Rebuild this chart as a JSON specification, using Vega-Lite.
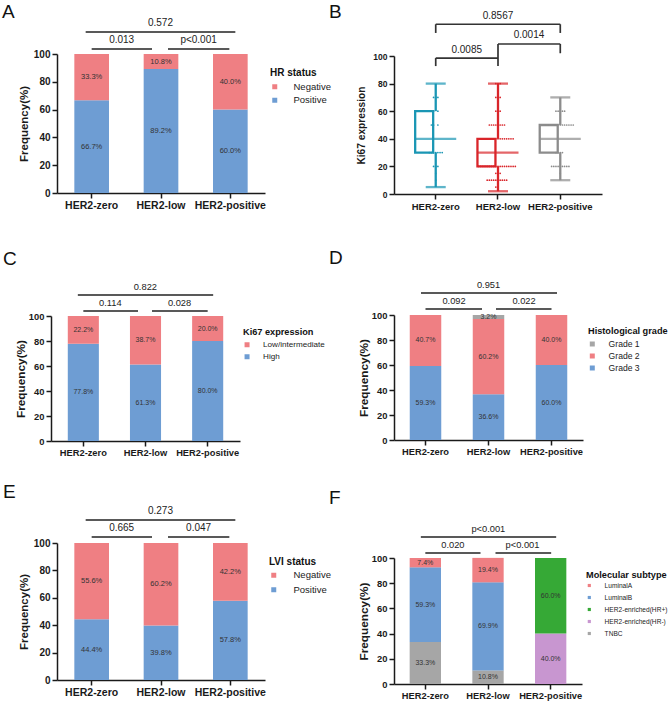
{
"$schema":"https://vega.github.io/schema/vega-lite/v6.json",
"background":"white",
"padding":{"left":2,"top":3,"right":0,"bottom":0},
"columns":2,
"spacing":{"row":100,"column":129},
"bounds":"flush",
"align":"each",
"resolve":{"scale":{"x":"independent","y":"independent","color":"independent","xOffset":"independent"},"axis":{"x":"independent","y":"independent"},"legend":{"color":"independent"}},
"concat":[
{
 "width":208,"height":139,
 "title":{"text":"A","anchor":"start","frame":"group","dx":-55,"offset":-19,"baseline":"alphabetic","fontSize":19,"fontWeight":"normal"},
 "layer":[
  {"data":{"values":[
    {"g":"HER2-zero","s":"Positive","o":1,"v":66.7,"t":"66.7%"},
    {"g":"HER2-zero","s":"Negative","o":2,"v":33.3,"t":"33.3%"},
    {"g":"HER2-low","s":"Positive","o":1,"v":89.2,"t":"89.2%"},
    {"g":"HER2-low","s":"Negative","o":2,"v":10.8,"t":"10.8%"},
    {"g":"HER2-positive","s":"Positive","o":1,"v":60.0,"t":"60.0%"},
    {"g":"HER2-positive","s":"Negative","o":2,"v":40.0,"t":"40.0%"}]},
   "layer":[
    {"mark":{"type":"bar"},
     "encoding":{
      "x":{"field":"g","type":"nominal","scale":{"domain":["HER2-zero","HER2-low","HER2-positive"],"paddingInner":0.5,"paddingOuter":0.25},"axis":{"title":null,"labelFontSize":10.5}},
      "y":{"field":"v","type":"quantitative","stack":"zero","scale":{"domain":[0,100],"nice":false},"axis":{"title":"Frequency(%)","values":[0,20,40,60,80,100],"tickCount":6,"labelFontSize":10,"titleFontSize":11.5}},
      "color":{"field":"s","type":"nominal","scale":{"domain":["Negative","Positive"],"range":["#ef7f83","#6e9dd3"]},"legend":{"title":"HR status","orient":"none","legendX":213,"legendY":14,"titleFontSize":10,"labelFontSize":9.5,"symbolSize":25,"rowPadding":2.5,"titlePadding":4,"labelOffset":14}},
      "order":{"field":"o","type":"quantitative"}}},
    {"mark":{"type":"text","fontSize":7.5,"color":"#333"},
     "encoding":{
      "x":{"field":"g","type":"nominal","scale":{"domain":["HER2-zero","HER2-low","HER2-positive"],"paddingInner":0.5,"paddingOuter":0.25}},
      "y":{"field":"v","type":"quantitative","stack":"zero","bandPosition":0.5,"scale":{"domain":[0,100],"nice":false}},
      "detail":{"field":"s"},
      "order":{"field":"o","type":"quantitative"},
      "text":{"field":"t"}}}
   ]},
  {"data":{"values":[{"a":"HER2-zero","b":"HER2-low","y":103.6,"p":"0.013"}]},
   "encoding":{"x":{"field":"a","type":"nominal","scale":{"domain":["HER2-zero","HER2-low","HER2-positive"],"paddingInner":0.5,"paddingOuter":0.25}},"y":{"field":"y","type":"quantitative","scale":{"domain":[0,100],"nice":false}}},
   "layer":[
    {"mark":{"type":"rule","x2Offset":-9,"strokeWidth":1.5,"color":"#222"},"encoding":{"x2":{"field":"b"}}},
    {"mark":{"type":"text","dx":30,"dy":-9,"fontSize":10,"color":"#222"},"encoding":{"text":{"field":"p"}}}]},
  {"data":{"values":[{"a":"HER2-low","b":"HER2-positive","y":103.6,"p":"p<0.001"}]},
   "encoding":{"x":{"field":"a","type":"nominal","scale":{"domain":["HER2-zero","HER2-low","HER2-positive"],"paddingInner":0.5,"paddingOuter":0.25}},"y":{"field":"y","type":"quantitative","scale":{"domain":[0,100],"nice":false}}},
   "layer":[
    {"mark":{"type":"rule","xOffset":7,"x2Offset":-1,"strokeWidth":1.5,"color":"#222"},"encoding":{"x2":{"field":"b"}}},
    {"mark":{"type":"text","dx":37.6,"dy":-9,"fontSize":10,"color":"#222"},"encoding":{"text":{"field":"p"}}}]},
  {"data":{"values":[{"a":"HER2-zero","b":"HER2-positive","y":115.8,"p":"0.572"}]},
   "encoding":{"x":{"field":"a","type":"nominal","scale":{"domain":["HER2-zero","HER2-low","HER2-positive"],"paddingInner":0.5,"paddingOuter":0.25}},"y":{"field":"y","type":"quantitative","scale":{"domain":[0,100],"nice":false}}},
   "layer":[
    {"mark":{"type":"rule","xOffset":-6,"x2Offset":5,"strokeWidth":1.5,"color":"#222"},"encoding":{"x2":{"field":"b"}}},
    {"mark":{"type":"text","dx":68.8,"dy":-9,"fontSize":10,"color":"#222"},"encoding":{"text":{"field":"p"}}}]}
 ]
},
{
 "width":208,"height":140,
 "title":{"text":"B","anchor":"start","frame":"group","dx":-65,"offset":-26,"baseline":"alphabetic","fontSize":19,"fontWeight":"normal"},
 "layer":[
  {"data":{"values":[
    {"g":"HER2-zero","lo":5,"q1":30,"md":40,"q3":60,"hi":80},
    {"g":"HER2-low","lo":2,"q1":20,"md":30,"q3":40,"hi":80},
    {"g":"HER2-positive","lo":10,"q1":30,"md":40,"q3":50,"hi":70}]},
   "encoding":{
    "x":{"field":"g","type":"nominal","scale":{"domain":["HER2-zero","HER2-low","HER2-positive"],"paddingInner":0.34,"paddingOuter":0.34},"axis":{"title":null,"labelFontSize":9.5}},
    "color":{"field":"g","type":"nominal","scale":{"domain":["HER2-zero","HER2-low","HER2-positive"],"range":["#1a96b4","#d9252a","#8c8c8c"]},"legend":null}},
   "layer":[
    {"mark":{"type":"rule","strokeWidth":2.3},"encoding":{"y":{"field":"lo","type":"quantitative","scale":{"domain":[0,100],"nice":false,"range":[140,2]},"axis":{"title":"Ki67 expression","values":[0,20,40,60,80,100],"tickCount":6,"labelFontSize":8.5,"titleFontSize":10.2,"titlePadding":6}},"y2":{"field":"q1"}}},
    {"mark":{"type":"rule","strokeWidth":2.3},"encoding":{"y":{"field":"q3","type":"quantitative","scale":{"domain":[0,100],"nice":false,"range":[140,2]}},"y2":{"field":"hi"}}},
    {"mark":{"type":"bar","filled":false,"strokeWidth":2.3,"width":{"band":1}},"encoding":{"y":{"field":"q1","type":"quantitative","scale":{"domain":[0,100],"nice":false,"range":[140,2]}},"y2":{"field":"q3"}}},
    {"mark":{"type":"tick","thickness":2.3,"size":41},"encoding":{"y":{"field":"md","type":"quantitative","scale":{"domain":[0,100],"nice":false,"range":[140,2]}}}},
    {"mark":{"type":"tick","thickness":2.3,"size":20},"encoding":{"y":{"field":"lo","type":"quantitative","scale":{"domain":[0,100],"nice":false,"range":[140,2]}}}},
    {"mark":{"type":"tick","thickness":2.3,"size":20},"encoding":{"y":{"field":"hi","type":"quantitative","scale":{"domain":[0,100],"nice":false,"range":[140,2]}}}}
   ]},
  {"data":{"values":[
    {"g":"HER2-zero","v":70,"k":-1},{"g":"HER2-zero","v":70,"k":0},{"g":"HER2-zero","v":70,"k":1},
    {"g":"HER2-zero","v":60,"k":-1},{"g":"HER2-zero","v":60,"k":1},
    {"g":"HER2-zero","v":50,"k":-2},{"g":"HER2-zero","v":50,"k":-1},{"g":"HER2-zero","v":50,"k":1},
    {"g":"HER2-zero","v":30,"k":-3},{"g":"HER2-zero","v":30,"k":-2},{"g":"HER2-zero","v":30,"k":-1},{"g":"HER2-zero","v":30,"k":0},{"g":"HER2-zero","v":30,"k":1},{"g":"HER2-zero","v":30,"k":2},{"g":"HER2-zero","v":30,"k":3},
    {"g":"HER2-zero","v":20,"k":-1},{"g":"HER2-zero","v":20,"k":0},{"g":"HER2-zero","v":20,"k":1},
    {"g":"HER2-zero","v":15,"k":0},{"g":"HER2-zero","v":10,"k":0},
    {"g":"HER2-low","v":80,"k":-1},{"g":"HER2-low","v":80,"k":0},{"g":"HER2-low","v":80,"k":1},
    {"g":"HER2-low","v":70,"k":-1},{"g":"HER2-low","v":70,"k":0},{"g":"HER2-low","v":70,"k":1},
    {"g":"HER2-low","v":60,"k":-1},{"g":"HER2-low","v":60,"k":0},{"g":"HER2-low","v":60,"k":1},
    {"g":"HER2-low","v":50,"k":-4},{"g":"HER2-low","v":50,"k":-3},{"g":"HER2-low","v":50,"k":-2},{"g":"HER2-low","v":50,"k":-1},{"g":"HER2-low","v":50,"k":0},{"g":"HER2-low","v":50,"k":1},{"g":"HER2-low","v":50,"k":2},{"g":"HER2-low","v":50,"k":3},
    {"g":"HER2-low","v":40,"k":-8},{"g":"HER2-low","v":40,"k":-7},{"g":"HER2-low","v":40,"k":-6},{"g":"HER2-low","v":40,"k":-5},{"g":"HER2-low","v":40,"k":-4},{"g":"HER2-low","v":40,"k":-3},{"g":"HER2-low","v":40,"k":-2},{"g":"HER2-low","v":40,"k":-1},{"g":"HER2-low","v":40,"k":0},{"g":"HER2-low","v":40,"k":1},{"g":"HER2-low","v":40,"k":2},{"g":"HER2-low","v":40,"k":3},{"g":"HER2-low","v":40,"k":4},{"g":"HER2-low","v":40,"k":5},{"g":"HER2-low","v":40,"k":6},{"g":"HER2-low","v":40,"k":7},
    {"g":"HER2-low","v":20,"k":-9},{"g":"HER2-low","v":20,"k":-8},{"g":"HER2-low","v":20,"k":-7},{"g":"HER2-low","v":20,"k":-6},{"g":"HER2-low","v":20,"k":-5},{"g":"HER2-low","v":20,"k":-4},{"g":"HER2-low","v":20,"k":-3},{"g":"HER2-low","v":20,"k":-2},{"g":"HER2-low","v":20,"k":-1},{"g":"HER2-low","v":20,"k":0},{"g":"HER2-low","v":20,"k":1},{"g":"HER2-low","v":20,"k":2},{"g":"HER2-low","v":20,"k":3},{"g":"HER2-low","v":20,"k":4},{"g":"HER2-low","v":20,"k":5},{"g":"HER2-low","v":20,"k":6},{"g":"HER2-low","v":20,"k":7},{"g":"HER2-low","v":20,"k":8},
    {"g":"HER2-low","v":15,"k":-1},{"g":"HER2-low","v":15,"k":0},{"g":"HER2-low","v":15,"k":1},
    {"g":"HER2-low","v":10,"k":-5},{"g":"HER2-low","v":10,"k":-4},{"g":"HER2-low","v":10,"k":-3},{"g":"HER2-low","v":10,"k":-2},{"g":"HER2-low","v":10,"k":-1},{"g":"HER2-low","v":10,"k":0},{"g":"HER2-low","v":10,"k":1},{"g":"HER2-low","v":10,"k":2},{"g":"HER2-low","v":10,"k":3},{"g":"HER2-low","v":10,"k":4},
    {"g":"HER2-low","v":5,"k":-1},{"g":"HER2-low","v":5,"k":0},
    {"g":"HER2-positive","v":60,"k":-2},{"g":"HER2-positive","v":60,"k":-1},{"g":"HER2-positive","v":60,"k":0},{"g":"HER2-positive","v":60,"k":1},{"g":"HER2-positive","v":60,"k":2},
    {"g":"HER2-positive","v":50,"k":-7},{"g":"HER2-positive","v":50,"k":-6},{"g":"HER2-positive","v":50,"k":-5},{"g":"HER2-positive","v":50,"k":-4},{"g":"HER2-positive","v":50,"k":-3},{"g":"HER2-positive","v":50,"k":-2},{"g":"HER2-positive","v":50,"k":-1},{"g":"HER2-positive","v":50,"k":0},{"g":"HER2-positive","v":50,"k":1},{"g":"HER2-positive","v":50,"k":2},{"g":"HER2-positive","v":50,"k":3},{"g":"HER2-positive","v":50,"k":4},{"g":"HER2-positive","v":50,"k":5},{"g":"HER2-positive","v":50,"k":6},
    {"g":"HER2-positive","v":30,"k":-2},{"g":"HER2-positive","v":30,"k":-1},{"g":"HER2-positive","v":30,"k":0},{"g":"HER2-positive","v":30,"k":1},
    {"g":"HER2-positive","v":20,"k":-4},{"g":"HER2-positive","v":20,"k":-3},{"g":"HER2-positive","v":20,"k":-2},{"g":"HER2-positive","v":20,"k":-1},{"g":"HER2-positive","v":20,"k":0},{"g":"HER2-positive","v":20,"k":1},{"g":"HER2-positive","v":20,"k":2},{"g":"HER2-positive","v":20,"k":3},{"g":"HER2-positive","v":20,"k":4},
    {"g":"HER2-positive","v":15,"k":0}]},
   "mark":{"type":"circle","size":3,"opacity":1},
   "encoding":{
    "x":{"field":"g","type":"nominal","bandPosition":0,"scale":{"domain":["HER2-zero","HER2-low","HER2-positive"],"paddingInner":0.34,"paddingOuter":0.34}},
    "xOffset":{"field":"k","type":"nominal","scale":{"domain":[-9,-8,-7,-6,-5,-4,-3,-2,-1,0,1,2,3,4,5,6,7,8,9]}},
    "y":{"field":"v","type":"quantitative","scale":{"domain":[0,100],"nice":false,"range":[140,2]}},
    "color":{"field":"g","type":"nominal","scale":{"domain":["HER2-zero","HER2-low","HER2-positive"],"range":["#1a96b4","#d9252a","#8c8c8c"]},"legend":null}}},
  {"data":{"values":[
    {"a":"HER2-zero","b":"HER2-low","y":98.5},
    {"a":"HER2-low","b":"HER2-positive","y":108.7},
    {"a":"HER2-zero","b":"HER2-positive","y":123}]},
   "mark":{"type":"rule","strokeWidth":1.7,"color":"#333"},
   "encoding":{
    "x":{"field":"a","type":"nominal","scale":{"domain":["HER2-zero","HER2-low","HER2-positive"],"paddingInner":0.34,"paddingOuter":0.34}},
    "x2":{"field":"b"},
    "y":{"field":"y","type":"quantitative","scale":{"domain":[0,100],"nice":false,"range":[140,2]}}}},
  {"data":{"values":[
    {"a":"HER2-zero","y":98.5,"y2":92.7},
    {"a":"HER2-low","y":98.5,"y2":92.7},
    {"a":"HER2-low","y":108.7,"y2":98.5},
    {"a":"HER2-positive","y":108.7,"y2":102},
    {"a":"HER2-zero","y":123,"y2":116.7},
    {"a":"HER2-positive","y":123,"y2":116.7}]},
   "mark":{"type":"rule","strokeWidth":1.7,"color":"#333"},
   "encoding":{
    "x":{"field":"a","type":"nominal","scale":{"domain":["HER2-zero","HER2-low","HER2-positive"],"paddingInner":0.34,"paddingOuter":0.34}},
    "y":{"field":"y","type":"quantitative","scale":{"domain":[0,100],"nice":false,"range":[140,2]}},
    "y2":{"field":"y2"}}},
  {"data":{"values":[
    {"a":"HER2-zero","y":98.5,"p":"0.0085"},
    {"a":"HER2-low","y":108.7,"p":"0.0014"}]},
   "mark":{"type":"text","dx":31,"dy":-8.5,"fontSize":10,"color":"#222"},
   "encoding":{
    "x":{"field":"a","type":"nominal","scale":{"domain":["HER2-zero","HER2-low","HER2-positive"],"paddingInner":0.34,"paddingOuter":0.34}},
    "y":{"field":"y","type":"quantitative","scale":{"domain":[0,100],"nice":false,"range":[140,2]}},
    "text":{"field":"p"}}},
  {"data":{"values":[{"a":"HER2-low","y":123,"p":"0.8567"}]},
   "mark":{"type":"text","dy":-8,"fontSize":10,"color":"#222"},
   "encoding":{
    "x":{"field":"a","type":"nominal","scale":{"domain":["HER2-zero","HER2-low","HER2-positive"],"paddingInner":0.34,"paddingOuter":0.34}},
    "y":{"field":"y","type":"quantitative","scale":{"domain":[0,100],"nice":false,"range":[140,2]}},
    "text":{"field":"p"}}}
 ]
},
{
 "width":190,"height":147,
 "title":{"text":"C","anchor":"start","frame":"group","dx":-54,"offset":-1,"baseline":"alphabetic","fontSize":19,"fontWeight":"normal"},
 "layer":[
  {"data":{"values":[
    {"g":"HER2-zero","s":"High","o":1,"v":77.8,"t":"77.8%"},
    {"g":"HER2-zero","s":"Low/intermediate","o":2,"v":22.2,"t":"22.2%"},
    {"g":"HER2-low","s":"High","o":1,"v":61.3,"t":"61.3%"},
    {"g":"HER2-low","s":"Low/intermediate","o":2,"v":38.7,"t":"38.7%"},
    {"g":"HER2-positive","s":"High","o":1,"v":80.0,"t":"80.0%"},
    {"g":"HER2-positive","s":"Low/intermediate","o":2,"v":20.0,"t":"20.0%"}]},
   "layer":[
    {"mark":{"type":"bar"},
     "encoding":{
      "x":{"field":"g","type":"nominal","scale":{"domain":["HER2-zero","HER2-low","HER2-positive"],"paddingInner":0.5,"paddingOuter":0.27,"range":[-6,183]},"axis":{"title":null,"labelFontSize":9.3}},
      "y":{"field":"v","type":"quantitative","stack":"zero","scale":{"domain":[0,100],"nice":false,"range":[147,22]},"axis":{"title":"Frequency(%)","values":[0,20,40,60,80,100],"tickCount":6,"labelFontSize":9.4,"titleFontSize":11.8,"offset":6,"titlePadding":2}},
      "color":{"field":"s","type":"nominal","scale":{"domain":["Low/intermediate","High"],"range":["#ef7f83","#6e9dd3"]},"legend":{"title":"Ki67 expression","orient":"none","legendX":186,"legendY":34,"titleFontSize":9.2,"labelFontSize":8.1,"symbolSize":25,"rowPadding":3,"titlePadding":3.5,"labelOffset":12}},
      "order":{"field":"o","type":"quantitative"}}},
    {"mark":{"type":"text","fontSize":7,"color":"#333"},
     "encoding":{
      "x":{"field":"g","type":"nominal","scale":{"domain":["HER2-zero","HER2-low","HER2-positive"],"paddingInner":0.5,"paddingOuter":0.27,"range":[-6,183]}},
      "y":{"field":"v","type":"quantitative","stack":"zero","bandPosition":0.5,"scale":{"domain":[0,100],"nice":false,"range":[147,22]}},
      "detail":{"field":"s"},
      "order":{"field":"o","type":"quantitative"},
      "text":{"field":"t"}}}
   ]},
  {"data":{"values":[{"a":"HER2-zero","b":"HER2-low","y":104,"p":"0.114"}]},
   "encoding":{"x":{"field":"a","type":"nominal","scale":{"domain":["HER2-zero","HER2-low","HER2-positive"],"paddingInner":0.5,"paddingOuter":0.27,"range":[-6,183]}},"y":{"field":"y","type":"quantitative","scale":{"domain":[0,100],"nice":false,"range":[147,22]}}},
   "layer":[
    {"mark":{"type":"rule","x2Offset":-7.5,"strokeWidth":1.5,"color":"#222"},"encoding":{"x2":{"field":"b"}}},
    {"mark":{"type":"text","dx":27,"dy":-8,"fontSize":9.3,"color":"#222"},"encoding":{"text":{"field":"p"}}}]},
  {"data":{"values":[{"a":"HER2-low","b":"HER2-positive","y":104,"p":"0.028"}]},
   "encoding":{"x":{"field":"a","type":"nominal","scale":{"domain":["HER2-zero","HER2-low","HER2-positive"],"paddingInner":0.5,"paddingOuter":0.27,"range":[-6,183]}},"y":{"field":"y","type":"quantitative","scale":{"domain":[0,100],"nice":false,"range":[147,22]}}},
   "layer":[
    {"mark":{"type":"rule","xOffset":6.5,"strokeWidth":1.5,"color":"#222"},"encoding":{"x2":{"field":"b"}}},
    {"mark":{"type":"text","dx":34,"dy":-8,"fontSize":9.3,"color":"#222"},"encoding":{"text":{"field":"p"}}}]},
  {"data":{"values":[{"a":"HER2-zero","b":"HER2-positive","y":116.8,"p":"0.822"}]},
   "encoding":{"x":{"field":"a","type":"nominal","scale":{"domain":["HER2-zero","HER2-low","HER2-positive"],"paddingInner":0.5,"paddingOuter":0.27,"range":[-6,183]}},"y":{"field":"y","type":"quantitative","scale":{"domain":[0,100],"nice":false,"range":[147,22]}}},
   "layer":[
    {"mark":{"type":"rule","xOffset":-5.5,"x2Offset":5.5,"strokeWidth":1.5,"color":"#222"},"encoding":{"x2":{"field":"b"}}},
    {"mark":{"type":"text","dx":62,"dy":-8,"fontSize":9.3,"color":"#222"},"encoding":{"text":{"field":"p"}}}]}
 ]
},
{
 "width":189,"height":146,
 "title":{"text":"D","anchor":"start","frame":"group","dx":-65,"offset":-2,"baseline":"alphabetic","fontSize":19,"fontWeight":"normal"},
 "layer":[
  {"data":{"values":[
    {"g":"HER2-zero","s":"Grade 3","o":1,"v":59.3,"t":"59.3%"},
    {"g":"HER2-zero","s":"Grade 2","o":2,"v":40.7,"t":"40.7%"},
    {"g":"HER2-low","s":"Grade 3","o":1,"v":36.6,"t":"36.6%"},
    {"g":"HER2-low","s":"Grade 2","o":2,"v":60.2,"t":"60.2%"},
    {"g":"HER2-low","s":"Grade 1","o":3,"v":3.2,"t":"3.2%"},
    {"g":"HER2-positive","s":"Grade 3","o":1,"v":60.0,"t":"60.0%"},
    {"g":"HER2-positive","s":"Grade 2","o":2,"v":40.0,"t":"40.0%"}]},
   "layer":[
    {"mark":{"type":"bar"},
     "encoding":{
      "x":{"field":"g","type":"nominal","scale":{"domain":["HER2-zero","HER2-low","HER2-positive"],"paddingInner":0.5,"paddingOuter":0.25},"axis":{"title":null,"labelFontSize":9.3}},
      "y":{"field":"v","type":"quantitative","stack":"zero","scale":{"domain":[0,100],"nice":false,"range":[146,21]},"axis":{"title":"Frequency(%)","values":[0,20,40,60,80,100],"tickCount":6,"labelFontSize":9.4,"titleFontSize":11.8,"titlePadding":2}},
      "color":{"field":"s","type":"nominal","scale":{"domain":["Grade 1","Grade 2","Grade 3"],"range":["#a6a6a6","#ef7f83","#6e9dd3"]},"legend":{"title":"Histological grade","orient":"none","legendX":194,"legendY":33,"titleFontSize":9.2,"labelFontSize":8.6,"symbolSize":25,"rowPadding":3,"titlePadding":3.5,"labelOffset":12}},
      "order":{"field":"o","type":"quantitative"}}},
    {"mark":{"type":"text","fontSize":7,"color":"#333"},
     "encoding":{
      "x":{"field":"g","type":"nominal","scale":{"domain":["HER2-zero","HER2-low","HER2-positive"],"paddingInner":0.5,"paddingOuter":0.25}},
      "y":{"field":"v","type":"quantitative","stack":"zero","bandPosition":0.5,"scale":{"domain":[0,100],"nice":false,"range":[146,21]}},
      "detail":{"field":"s"},
      "order":{"field":"o","type":"quantitative"},
      "text":{"field":"t"}}}
   ]},
  {"data":{"values":[{"a":"HER2-zero","b":"HER2-low","y":104.8,"p":"0.092"}]},
   "encoding":{"x":{"field":"a","type":"nominal","scale":{"domain":["HER2-zero","HER2-low","HER2-positive"],"paddingInner":0.5,"paddingOuter":0.25}},"y":{"field":"y","type":"quantitative","scale":{"domain":[0,100],"nice":false,"range":[146,21]}}},
   "layer":[
    {"mark":{"type":"rule","x2Offset":-6.5,"strokeWidth":1.5,"color":"#222"},"encoding":{"x2":{"field":"b"}}},
    {"mark":{"type":"text","dx":28.5,"dy":-8,"fontSize":9.3,"color":"#222"},"encoding":{"text":{"field":"p"}}}]},
  {"data":{"values":[{"a":"HER2-low","b":"HER2-positive","y":104.8,"p":"0.022"}]},
   "encoding":{"x":{"field":"a","type":"nominal","scale":{"domain":["HER2-zero","HER2-low","HER2-positive"],"paddingInner":0.5,"paddingOuter":0.25}},"y":{"field":"y","type":"quantitative","scale":{"domain":[0,100],"nice":false,"range":[146,21]}}},
   "layer":[
    {"mark":{"type":"rule","xOffset":7.5,"strokeWidth":1.5,"color":"#222"},"encoding":{"x2":{"field":"b"}}},
    {"mark":{"type":"text","dx":35.5,"dy":-8,"fontSize":9.3,"color":"#222"},"encoding":{"text":{"field":"p"}}}]},
  {"data":{"values":[{"a":"HER2-zero","b":"HER2-positive","y":117.6,"p":"0.951"}]},
   "encoding":{"x":{"field":"a","type":"nominal","scale":{"domain":["HER2-zero","HER2-low","HER2-positive"],"paddingInner":0.5,"paddingOuter":0.25}},"y":{"field":"y","type":"quantitative","scale":{"domain":[0,100],"nice":false,"range":[146,21]}}},
   "layer":[
    {"mark":{"type":"rule","xOffset":-4.5,"x2Offset":5.5,"strokeWidth":1.5,"color":"#222"},"encoding":{"x2":{"field":"b"}}},
    {"mark":{"type":"text","dx":63,"dy":-8,"fontSize":9.3,"color":"#222"},"encoding":{"text":{"field":"p"}}}]}
 ]
},
{
 "width":208,"height":139,
 "title":{"text":"E","anchor":"start","frame":"group","dx":-54,"offset":-11,"baseline":"alphabetic","fontSize":19,"fontWeight":"normal"},
 "layer":[
  {"data":{"values":[
    {"g":"HER2-zero","s":"Positive","o":1,"v":44.4,"t":"44.4%"},
    {"g":"HER2-zero","s":"Negative","o":2,"v":55.6,"t":"55.6%"},
    {"g":"HER2-low","s":"Positive","o":1,"v":39.8,"t":"39.8%"},
    {"g":"HER2-low","s":"Negative","o":2,"v":60.2,"t":"60.2%"},
    {"g":"HER2-positive","s":"Positive","o":1,"v":57.8,"t":"57.8%"},
    {"g":"HER2-positive","s":"Negative","o":2,"v":42.2,"t":"42.2%"}]},
   "layer":[
    {"mark":{"type":"bar"},
     "encoding":{
      "x":{"field":"g","type":"nominal","scale":{"domain":["HER2-zero","HER2-low","HER2-positive"],"paddingInner":0.5,"paddingOuter":0.25},"axis":{"title":null,"labelFontSize":10.5}},
      "y":{"field":"v","type":"quantitative","stack":"zero","scale":{"domain":[0,100],"nice":false,"range":[139,2]},"axis":{"title":"Frequency(%)","values":[0,20,40,60,80,100],"tickCount":6,"labelFontSize":10,"titleFontSize":11.5}},
      "color":{"field":"s","type":"nominal","scale":{"domain":["Negative","Positive"],"range":["#ef7f83","#6e9dd3"]},"legend":{"title":"LVI status","orient":"none","legendX":212,"legendY":16,"titleFontSize":10,"labelFontSize":9.5,"symbolSize":25,"rowPadding":3.5,"titlePadding":3.5,"labelOffset":15}},
      "order":{"field":"o","type":"quantitative"}}},
    {"mark":{"type":"text","fontSize":7.5,"color":"#333"},
     "encoding":{
      "x":{"field":"g","type":"nominal","scale":{"domain":["HER2-zero","HER2-low","HER2-positive"],"paddingInner":0.5,"paddingOuter":0.25}},
      "y":{"field":"v","type":"quantitative","stack":"zero","bandPosition":0.5,"scale":{"domain":[0,100],"nice":false,"range":[139,2]}},
      "detail":{"field":"s"},
      "order":{"field":"o","type":"quantitative"},
      "text":{"field":"t"}}}
   ]},
  {"data":{"values":[{"a":"HER2-zero","b":"HER2-low","y":104.4,"p":"0.665"}]},
   "encoding":{"x":{"field":"a","type":"nominal","scale":{"domain":["HER2-zero","HER2-low","HER2-positive"],"paddingInner":0.5,"paddingOuter":0.25}},"y":{"field":"y","type":"quantitative","scale":{"domain":[0,100],"nice":false,"range":[139,2]}}},
   "layer":[
    {"mark":{"type":"rule","x2Offset":-9,"strokeWidth":1.5,"color":"#222"},"encoding":{"x2":{"field":"b"}}},
    {"mark":{"type":"text","dx":30,"dy":-9,"fontSize":10,"color":"#222"},"encoding":{"text":{"field":"p"}}}]},
  {"data":{"values":[{"a":"HER2-low","b":"HER2-positive","y":104.4,"p":"0.047"}]},
   "encoding":{"x":{"field":"a","type":"nominal","scale":{"domain":["HER2-zero","HER2-low","HER2-positive"],"paddingInner":0.5,"paddingOuter":0.25}},"y":{"field":"y","type":"quantitative","scale":{"domain":[0,100],"nice":false,"range":[139,2]}}},
   "layer":[
    {"mark":{"type":"rule","xOffset":7,"x2Offset":-1,"strokeWidth":1.5,"color":"#222"},"encoding":{"x2":{"field":"b"}}},
    {"mark":{"type":"text","dx":37.6,"dy":-9,"fontSize":10,"color":"#222"},"encoding":{"text":{"field":"p"}}}]},
  {"data":{"values":[{"a":"HER2-zero","b":"HER2-positive","y":116.8,"p":"0.273"}]},
   "encoding":{"x":{"field":"a","type":"nominal","scale":{"domain":["HER2-zero","HER2-low","HER2-positive"],"paddingInner":0.5,"paddingOuter":0.25}},"y":{"field":"y","type":"quantitative","scale":{"domain":[0,100],"nice":false,"range":[139,2]}}},
   "layer":[
    {"mark":{"type":"rule","xOffset":-6,"x2Offset":5,"strokeWidth":1.5,"color":"#222"},"encoding":{"x2":{"field":"b"}}},
    {"mark":{"type":"text","dx":68.8,"dy":-9,"fontSize":10,"color":"#222"},"encoding":{"text":{"field":"p"}}}]}
 ]
},
{
 "width":188,"height":143,
 "title":{"text":"F","anchor":"start","frame":"group","dx":-65,"offset":2,"baseline":"alphabetic","fontSize":19,"fontWeight":"normal"},
 "layer":[
  {"data":{"values":[
    {"g":"HER2-zero","s":"TNBC","o":1,"v":33.3,"t":"33.3%"},
    {"g":"HER2-zero","s":"LuminalB","o":4,"v":59.3,"t":"59.3%"},
    {"g":"HER2-zero","s":"LuminalA","o":5,"v":7.4,"t":"7.4%"},
    {"g":"HER2-low","s":"TNBC","o":1,"v":10.8,"t":"10.8%"},
    {"g":"HER2-low","s":"LuminalB","o":4,"v":69.9,"t":"69.9%"},
    {"g":"HER2-low","s":"LuminalA","o":5,"v":19.4,"t":"19.4%"},
    {"g":"HER2-positive","s":"HER2-enriched(HR-)","o":2,"v":40.0,"t":"40.0%"},
    {"g":"HER2-positive","s":"HER2-enriched(HR+)","o":3,"v":60.0,"t":"60.0%"}]},
   "layer":[
    {"mark":{"type":"bar"},
     "encoding":{
      "x":{"field":"g","type":"nominal","scale":{"domain":["HER2-zero","HER2-low","HER2-positive"],"paddingInner":0.5,"paddingOuter":0.25},"axis":{"title":null,"labelFontSize":9.3}},
      "y":{"field":"v","type":"quantitative","stack":"zero","scale":{"domain":[0,100],"nice":false,"range":[143,17]},"axis":{"title":"Frequency(%)","values":[0,20,40,60,80,100],"tickCount":6,"labelFontSize":9.4,"titleFontSize":11.8,"titlePadding":2}},
      "color":{"field":"s","type":"nominal","scale":{"domain":["LuminalA","LuminalB","HER2-enriched(HR+)","HER2-enriched(HR-)","TNBC"],"range":["#ef7f83","#6e9dd3","#36a936","#c896d0","#a6a6a6"]},"legend":{"title":"Molecular subtype","orient":"none","legendX":192,"legendY":30,"titleFontSize":9.2,"labelFontSize":6.6,"symbolSize":10,"rowPadding":5,"titlePadding":2,"labelOffset":12}},
      "order":{"field":"o","type":"quantitative"}}},
    {"mark":{"type":"text","fontSize":7,"color":"#333"},
     "encoding":{
      "x":{"field":"g","type":"nominal","scale":{"domain":["HER2-zero","HER2-low","HER2-positive"],"paddingInner":0.5,"paddingOuter":0.25}},
      "y":{"field":"v","type":"quantitative","stack":"zero","bandPosition":0.5,"scale":{"domain":[0,100],"nice":false,"range":[143,17]}},
      "detail":{"field":"s"},
      "order":{"field":"o","type":"quantitative"},
      "text":{"field":"t"}}}
   ]},
  {"data":{"values":[{"a":"HER2-zero","b":"HER2-low","y":104,"p":"0.020"}]},
   "encoding":{"x":{"field":"a","type":"nominal","scale":{"domain":["HER2-zero","HER2-low","HER2-positive"],"paddingInner":0.5,"paddingOuter":0.25}},"y":{"field":"y","type":"quantitative","scale":{"domain":[0,100],"nice":false,"range":[143,17]}}},
   "layer":[
    {"mark":{"type":"rule","x2Offset":-7.5,"strokeWidth":1.5,"color":"#222"},"encoding":{"x2":{"field":"b"}}},
    {"mark":{"type":"text","dx":27.5,"dy":-8,"fontSize":9.3,"color":"#222"},"encoding":{"text":{"field":"p"}}}]},
  {"data":{"values":[{"a":"HER2-low","b":"HER2-positive","y":104,"p":"p<0.001"}]},
   "encoding":{"x":{"field":"a","type":"nominal","scale":{"domain":["HER2-zero","HER2-low","HER2-positive"],"paddingInner":0.5,"paddingOuter":0.25}},"y":{"field":"y","type":"quantitative","scale":{"domain":[0,100],"nice":false,"range":[143,17]}}},
   "layer":[
    {"mark":{"type":"rule","xOffset":7.5,"x2Offset":0.5,"strokeWidth":1.5,"color":"#222"},"encoding":{"x2":{"field":"b"}}},
    {"mark":{"type":"text","dx":34.5,"dy":-8,"fontSize":9.3,"color":"#222"},"encoding":{"text":{"field":"p"}}}]},
  {"data":{"values":[{"a":"HER2-zero","b":"HER2-positive","y":116.7,"p":"p<0.001"}]},
   "encoding":{"x":{"field":"a","type":"nominal","scale":{"domain":["HER2-zero","HER2-low","HER2-positive"],"paddingInner":0.5,"paddingOuter":0.25}},"y":{"field":"y","type":"quantitative","scale":{"domain":[0,100],"nice":false,"range":[143,17]}}},
   "layer":[
    {"mark":{"type":"rule","xOffset":-4.5,"x2Offset":5.5,"strokeWidth":1.5,"color":"#222"},"encoding":{"x2":{"field":"b"}}},
    {"mark":{"type":"text","dx":63,"dy":-8,"fontSize":9.3,"color":"#222"},"encoding":{"text":{"field":"p"}}}]}
 ]
}
],
"config":{
 "font":"Liberation Sans",
 "view":{"stroke":null},
 "axis":{"domainColor":"#1a1a1a","domainWidth":1.5,"tickColor":"#1a1a1a","tickWidth":1.5,"tickSize":5,"labelColor":"#1a1a1a","labelFontWeight":"bold","titleFontWeight":"bold","titleColor":"#1a1a1a","grid":false,"labelPadding":2,"titlePadding":4,"labelOverlap":false},
 "axisX":{"labelAngle":0},
 "legend":{"padding":0,"symbolType":"square","titleFontWeight":"bold","titleColor":"#111","labelColor":"#222","symbolStrokeWidth":0,"symbolOpacity":1},
 "title":{"color":"#111"}
}
}
